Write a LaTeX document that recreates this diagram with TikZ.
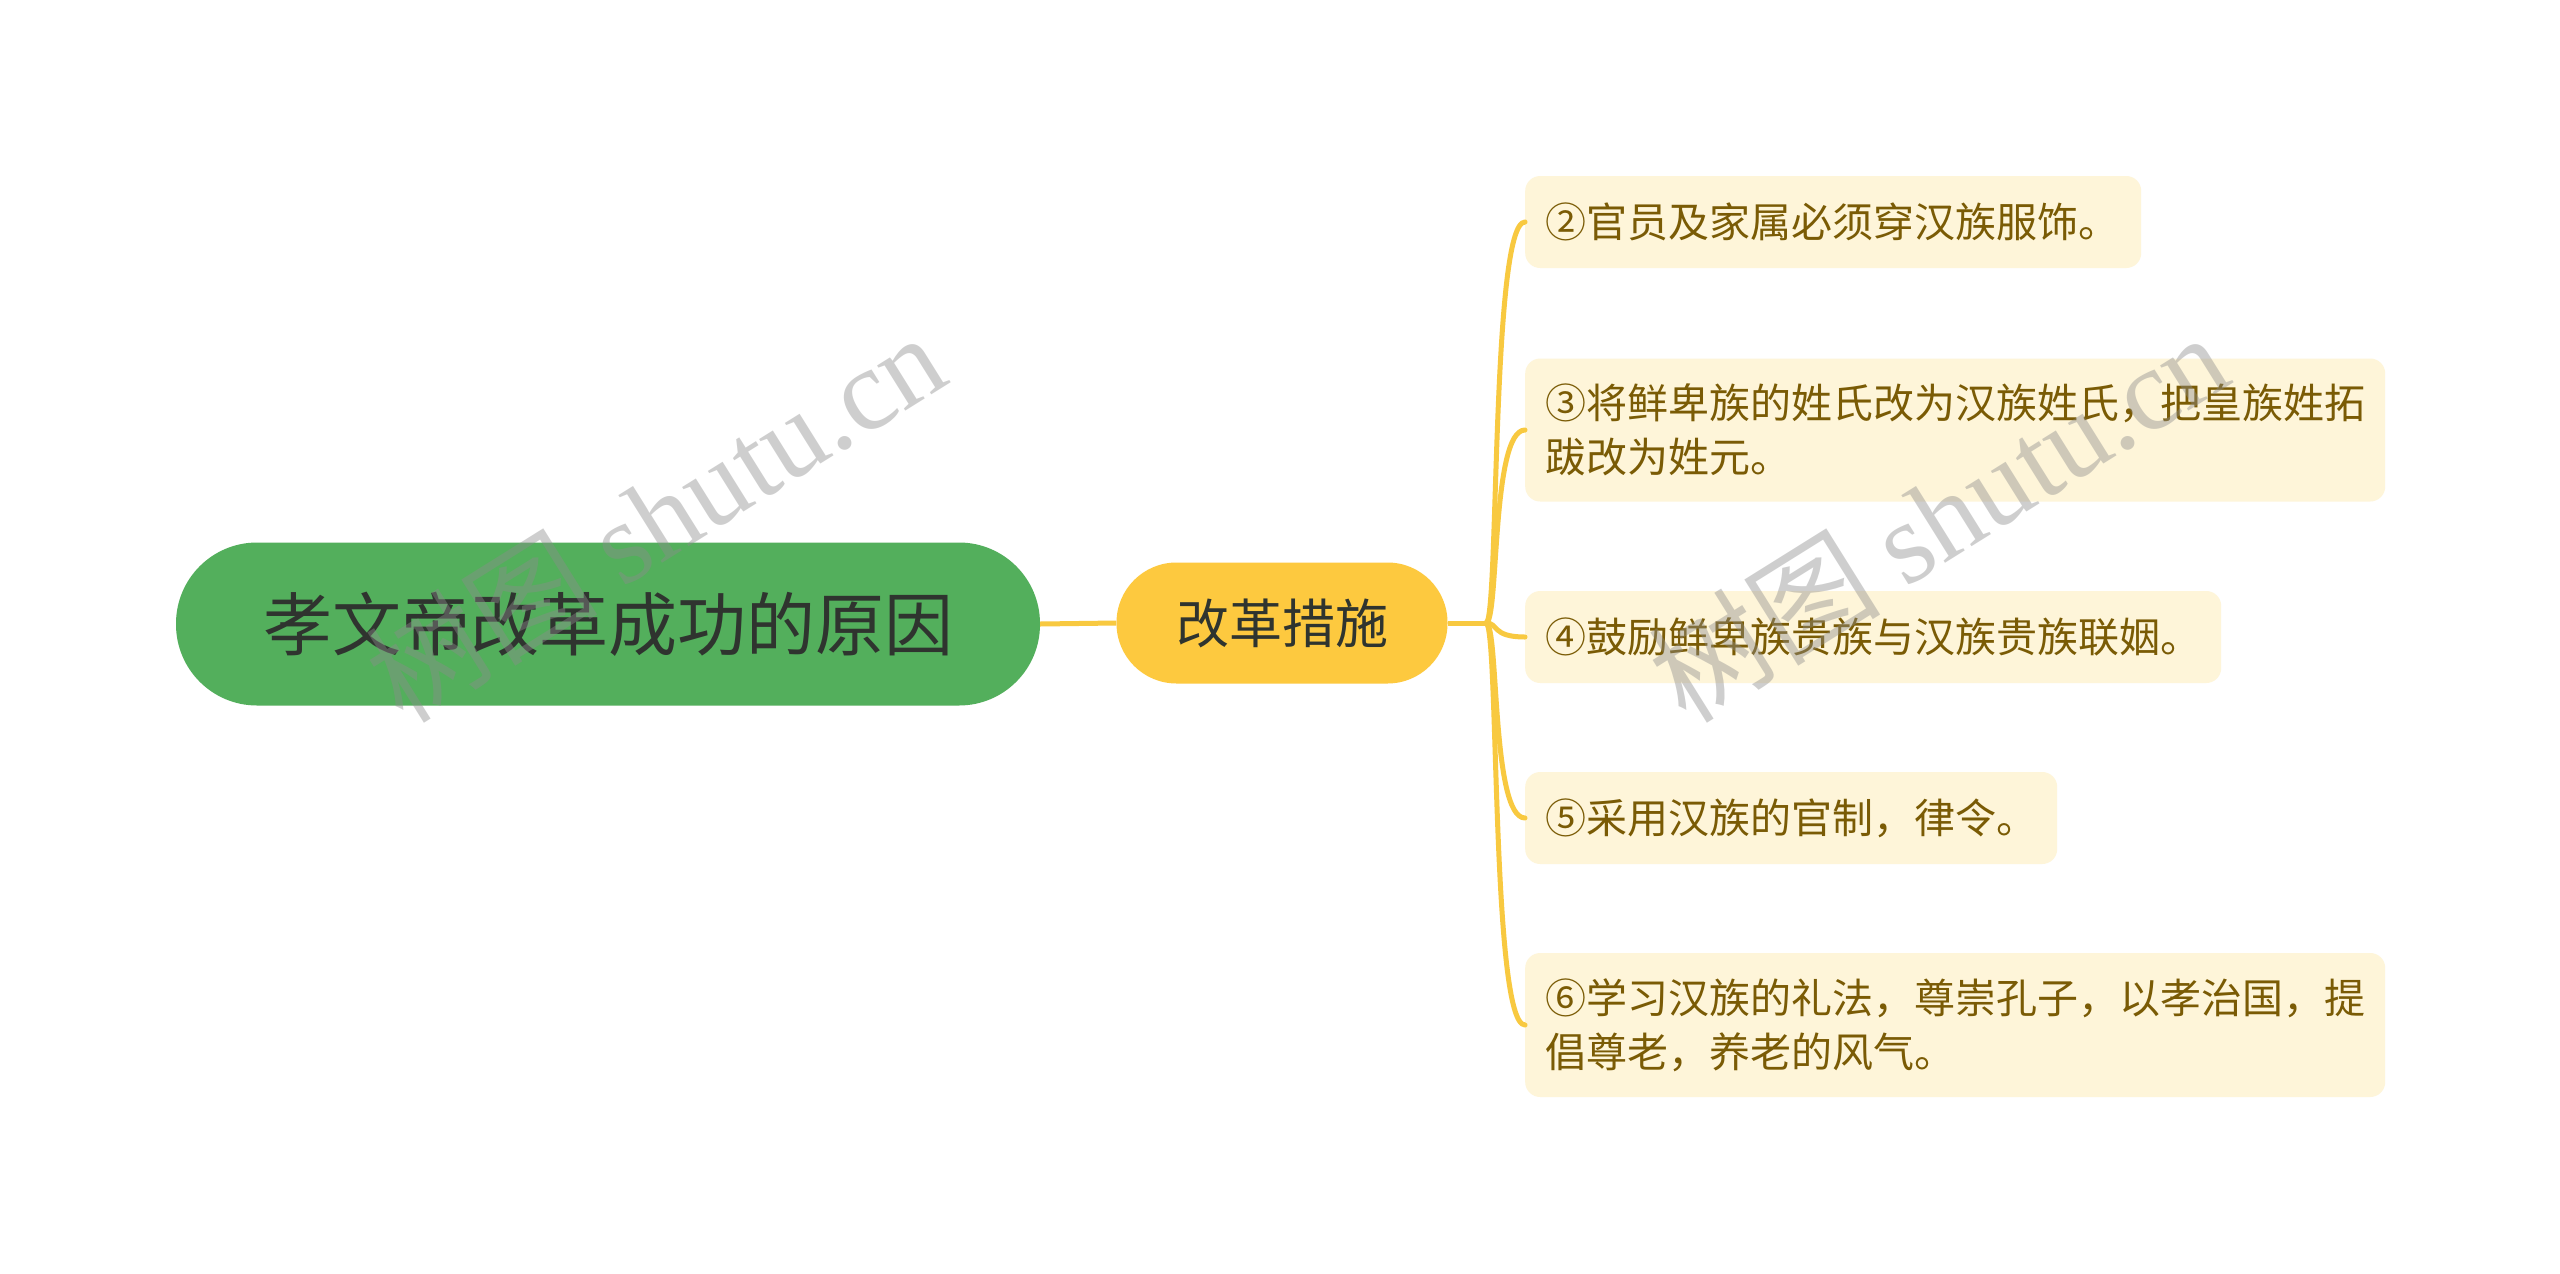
\documentclass[tikz,border=0pt]{standalone}
\usepackage{fontspec}
\setmainfont{Noto Sans CJK SC}
\newfontfamily\wmlatin{Liberation Serif}
\usetikzlibrary{positioning}
\definecolor{rootgreen}{HTML}{53AF5C}
\definecolor{midyellow}{HTML}{FDC93F}
\definecolor{leaffill}{HTML}{FEF5D9}
\definecolor{leaftext}{HTML}{7A5B05}
\definecolor{linecol}{HTML}{F8C940}
\definecolor{darktext}{HTML}{2F342F}
\tikzset{
  rootbox/.style={fill=rootgreen, draw=none, rounded corners=81pt, minimum width=864pt, minimum height=163pt, inner sep=0pt, text=darktext, font=\fontsize{69}{80}\selectfont},
  midbox/.style={fill=midyellow, draw=none, rounded corners=60pt, minimum width=331pt, minimum height=121pt, inner sep=0pt, text=darktext, font=\fontsize{53}{60}\selectfont},
  leafbox/.style={fill=leaffill, draw=none, rounded corners=15pt, anchor=west, inner xsep=20pt, inner ysep=0pt, align=left, text=leaftext, font=\fontsize{41}{54}\selectfont},
  conn/.style={draw=linecol, line width=5pt},
  branch/.style={draw=linecol, line width=5pt, line cap=round},
  watermark/.style={text=black!45, opacity=0.42, rotate=32, font=\fontsize{116}{120}\selectfont}
}
\begin{document}
\begin{tikzpicture}[x=1pt,y=-1pt]
\useasboundingbox[fill=white] (0,0) rectangle (2560,1274);
\node[rootbox] (root) at (608,624) {孝文帝改革成功的原因};
\node[midbox] (mid) at (1282,623) {改革措施};
\coordinate (j) at (1486,623);
\node[leafbox, text width=576pt, minimum height=92pt] (l1) at (1525,222) {②官员及家属必须穿汉族服饰。};
\node[leafbox, text width=820pt, minimum height=143pt] (l2) at (1525,430) {③将鲜卑族的姓氏改为汉族姓氏，把皇族姓拓\\跋改为姓元。};
\node[leafbox, text width=656pt, minimum height=92pt] (l3) at (1525,637) {④鼓励鲜卑族贵族与汉族贵族联姻。};
\node[leafbox, text width=492pt, minimum height=92pt] (l4) at (1525,818) {⑤采用汉族的官制，律令。};
\node[leafbox, text width=820pt, minimum height=144pt] (l5) at (1525,1025) {⑥学习汉族的礼法，尊崇孔子，以孝治国，提\\倡尊老，养老的风气。};
\draw[conn] (root.east) -- (mid.west);
\draw[conn] (mid.east) -- (j);
\foreach \n in {l1,l2,l3,l4,l5}{
  \draw[branch] (j) .. controls ([xshift=-26pt]\n.west |- j) and ([xshift=-34pt]\n.west) .. (\n.west);
}
\node[watermark] (wm1) at (655,516) {树图 {\wmlatin shutu.cn}};
\node[watermark] (wm2) at (1938,516) {树图 {\wmlatin shutu.cn}};
\end{tikzpicture}
\end{document}
